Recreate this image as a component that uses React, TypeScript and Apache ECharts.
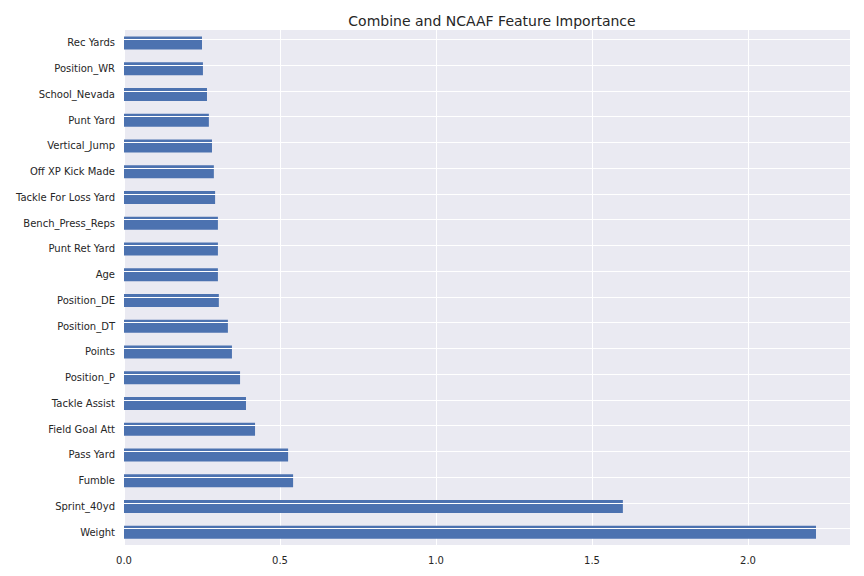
import React, { useEffect, useRef } from "react";
import * as echarts from "echarts";

const features = ["Weight","Sprint_40yd","Fumble","Pass Yard","Field Goal Att","Tackle Assist","Position_P","Points","Position_DT","Position_DE","Age","Punt Ret Yard","Bench_Press_Reps","Tackle For Loss Yard","Off XP Kick Made","Vertical_Jump","Punt Yard","School_Nevada","Position_WR","Rec Yards"];
const importance = [2.218,1.599,0.542,0.526,0.420,0.391,0.372,0.346,0.333,0.304,0.301,0.301,0.301,0.292,0.288,0.282,0.272,0.266,0.253,0.250];
const xTicks = [0, 0.5, 1.0, 1.5, 2.0];

export default function App() {
  const ref = useRef<HTMLDivElement>(null);
  useEffect(() => {
    const chart = echarts.init(ref.current!, null, { renderer: "svg" });
    chart.setOption({
      animation: false,
      backgroundColor: "#ffffff",
      title: { text: "Combine and NCAAF Feature Importance", left: 487, top: 9, textAlign: "center",
        textStyle: { fontFamily: "DejaVu Sans", fontSize: 14, fontWeight: "normal", color: "#262626" } },
      grid: { left: 124, right: 14, top: 30, bottom: 31, show: true, backgroundColor: "#EAEAF2", borderWidth: 0 },
      xAxis: { type: "value", min: 0, max: 2.327, interval: 0.5,
        axisLine: { show: false }, axisTick: { show: false },
        splitLine: { lineStyle: { color: "#ffffff", width: 1 } },
        axisLabel: { fontFamily: "DejaVu Sans", fontSize: 10, color: "#262626", margin: 10,
          showMaxLabel: false, formatter: (v: number) => xTicks.includes(v) ? v.toFixed(1) : "" } },
      yAxis: { type: "category", data: features,
        axisLine: { show: false }, axisTick: { show: false }, splitLine: { show: false },
        axisLabel: { fontFamily: "DejaVu Sans", fontSize: 10, color: "#262626", margin: 9 } },
      series: [
        { type: "bar", data: [], z: 1, silent: true,
          markLine: { silent: true, symbol: "none", label: { show: false },
            lineStyle: { color: "#ffffff", width: 1, type: "solid" },
            data: features.map((f) => ({ yAxis: f })) } },
        { type: "bar", data: importance, z: 3, barWidth: 13, barGap: "-100%",
          itemStyle: { color: "#4C72B0" } }
      ]
    });
    return () => chart.dispose();
  }, []);
  return <div ref={ref} style={{ position: "fixed", left: 0, top: 0, width: 864, height: 576 }} />;
}
